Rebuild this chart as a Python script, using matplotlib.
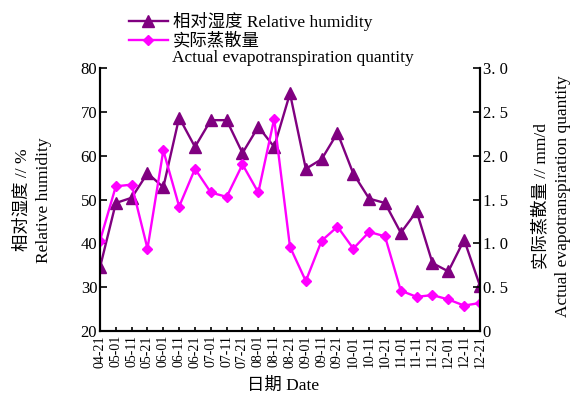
import numpy as np
import matplotlib
matplotlib.use("Agg")
import matplotlib.pyplot as plt

plt.rcParams['font.family'] = ['Liberation Serif', 'Noto Sans CJK SC']

### data ###
dates = ['04-21', '05-01', '05-11', '05-21', '06-01', '06-11', '06-21',
         '07-01', '07-11', '07-21', '08-01', '08-11', '08-21', '09-01',
         '09-11', '09-21', '10-01', '10-11', '10-21', '11-01', '11-11',
         '11-21', '12-01', '12-11', '12-21']
humidity = [34.5, 49.2, 50.4, 56.0, 52.8, 68.7, 62.0, 68.1, 68.1, 60.6,
            66.6, 62.0, 74.2, 57.0, 59.2, 65.2, 55.9, 50.2, 49.2, 42.4,
            47.3, 35.5, 33.6, 40.8, 30.3]
evap = [1.03, 1.65, 1.67, 0.94, 2.06, 1.42, 1.85, 1.58, 1.53, 1.90,
        1.58, 2.42, 0.96, 0.57, 1.03, 1.19, 0.94, 1.13, 1.08, 0.46,
        0.39, 0.41, 0.36, 0.29, 0.32]
left_ticks = [20, 30, 40, 50, 60, 70, 80]
right_ticks = [0, 0.5, 1.0, 1.5, 2.0, 2.5, 3.0]
right_labels = ['0', '0. 5', '1. 0', '1. 5', '2. 0', '2. 5', '3. 0']

purple = '#800080'
magenta = '#ff00ff'

fig = plt.figure(figsize=(5.83, 3.96), dpi=100)
ax = fig.add_axes([0.1715, 0.1641, 0.6518, 0.6642])
ax2 = ax.twinx()

x = np.arange(len(dates))
l1, = ax.plot(x, humidity, color=purple, lw=1.7, marker='^', ms=8)
l2, = ax2.plot(x, evap, color=magenta, lw=1.7, marker='D', ms=5.5)

ax.set_xlim(0, len(dates) - 1)
ax.set_ylim(20, 80)
ax2.set_ylim(0, 3.0)
ax.set_xticks(x)
ax.set_xticklabels(dates, rotation=90, fontsize=10)
ax.set_yticks(left_ticks)
ax.set_yticklabels([str(t) for t in left_ticks], fontsize=12)
ax2.set_yticks(right_ticks)
ax2.set_yticklabels(right_labels, fontsize=12)

for a in (ax, ax2):
    a.spines['top'].set_visible(False)
    for s in a.spines.values():
        s.set_linewidth(1.5)
ax.tick_params(axis='both', direction='in', length=5, width=1.2, pad=2)
ax.tick_params(axis='x', length=3, pad=3)
ax2.tick_params(axis='y', direction='in', length=5, width=1.2, pad=2)

fig.text(0.057, 0.495, '相对湿度 // %\nRelative humidity', rotation=90,
         ha='center', va='center', fontsize=12.5, linespacing=1.45)
fig.text(0.946, 0.505, '实际蒸散量 // mm/d\nActual evapotranspiration quantity',
         rotation=90, ha='center', va='center', fontsize=12.5, linespacing=1.45)
fig.text(0.485, 0.025, '日期 Date', ha='center', va='center', fontsize=12.5)

leg = fig.legend([l1, l2], ['相对湿度 Relative humidity', '实际蒸散量'],
                 loc='upper left', bbox_to_anchor=(0.201, 1.0),
                 frameon=False, fontsize=12.5, handlelength=2.2,
                 handletextpad=0.3, labelspacing=0.1, borderaxespad=0.3)
fig.text(0.295, 0.853, 'Actual evapotranspiration quantity', fontsize=12.5,
         ha='left', va='center')

plt.savefig('out.png', dpi=100)
